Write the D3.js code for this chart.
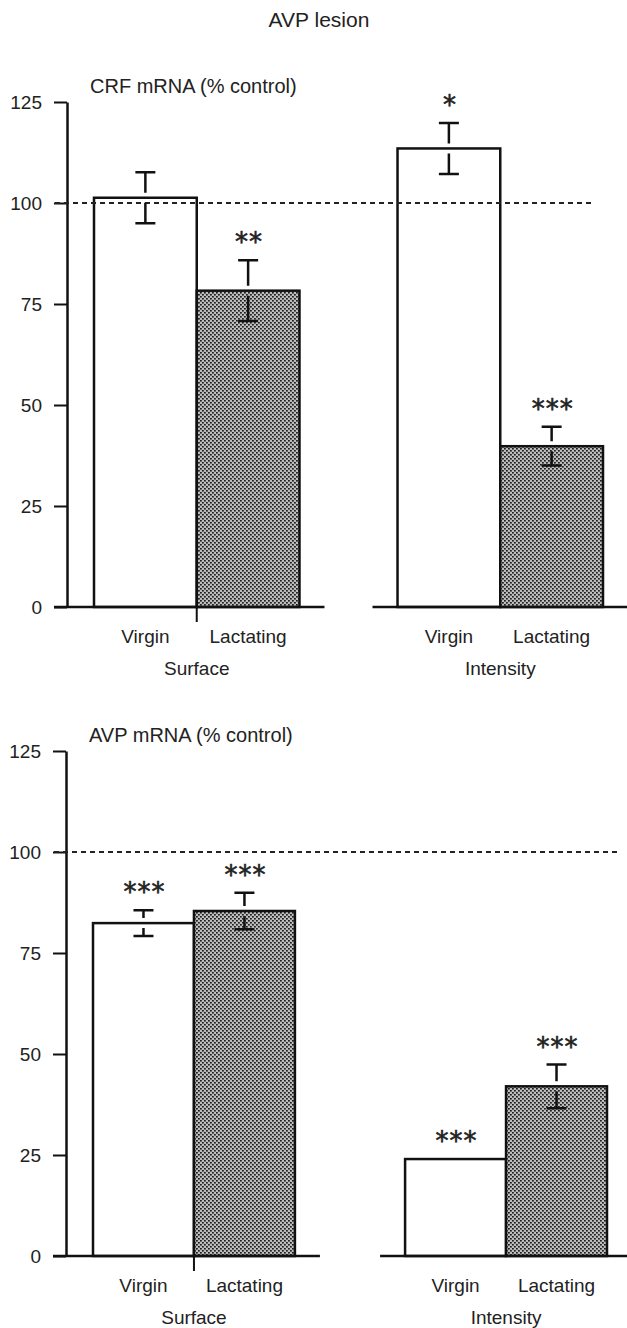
<!DOCTYPE html>
<html>
<head>
<style>
  body { margin: 0; background: #fff; }
  svg text { font-family: "Liberation Sans", Arial, sans-serif; fill: #222; }
  .axis path, .axis line { stroke: #111; }
  .axis path { stroke-width: 2.5px; }
  .axis line { stroke-width: 2px; }
  .axis text { font-size: 19px; }
  .bar { stroke: #111; stroke-width: 2.5px; }
  .err { stroke: #111; stroke-width: 2.5px; fill: none; }
  .stars { font-family: "DejaVu Sans", sans-serif !important; font-size: 26px; letter-spacing: 1px; stroke: #222; stroke-width: 0.6px; }
</style>
</head>
<body>
<script src="https://d3js.org/d3.v7.min.js"></script>
<script>
var groups = ["Surface", "Intensity"];
var conditions = ["Virgin", "Lactating"];
var yTicks = [0, 25, 50, 75, 100, 125];
var controlLevel = 100;
// bar order: Surface-Virgin, Surface-Lactating, Intensity-Virgin, Intensity-Lactating
var crfMean = [101.3, 78.3, 113.5, 39.8];
var crfSem = [6.3, 7.5, 6.3, 4.8];
var crfStars = ["", "**", "*", "***"];
var avpMean = [82.4, 85.4, 24.0, 42.0];
var avpSem = [3.2, 4.5, 0, 5.4];
var avpStars = ["***", "***", "***", "***"];

var width = 627, height = 1328;
var svg = d3.select("body").append("svg")
    .attr("width", width)
    .attr("height", height);

// stipple fill for the lactating bars
var pat = svg.append("defs").append("pattern")
    .attr("id", "stipple")
    .attr("patternUnits", "userSpaceOnUse")
    .attr("width", 4).attr("height", 4);
pat.append("rect").attr("width", 4).attr("height", 4).attr("fill", "#bdbdbd");
pat.append("rect").attr("x", 0).attr("y", 0).attr("width", 1.8).attr("height", 1.6).attr("fill", "#1e1e1e");
pat.append("rect").attr("x", 2).attr("y", 2).attr("width", 1.8).attr("height", 1.6).attr("fill", "#1e1e1e");

svg.append("text")
    .attr("x", 319).attr("y", 27)
    .attr("text-anchor", "middle")
    .style("font-size", "21px")
    .text("AVP lesion");

var panels = [
  {title: "CRF mRNA (% control)", mean: crfMean, sem: crfSem, stars: crfStars,
   top: 102, bottom: 607, axisX: 67, xRange: [94, 603], pad: 0.323, dashEnd: 592},
  {title: "AVP mRNA (% control)", mean: avpMean, sem: avpSem, stars: avpStars,
   top: 751, bottom: 1256, axisX: 66, xRange: [93, 607], pad: 0.353, dashEnd: 620}
];

var gap = 5, capW = 20;

panels.forEach(function(p) {
  var g = svg.append("g");
  var y = d3.scaleLinear().domain([0, 125]).range([p.bottom, p.top]);
  var xg = d3.scaleBand().domain(groups).range(p.xRange).paddingInner(p.pad);
  var xc = d3.scaleBand().domain(conditions).range([0, xg.bandwidth()]);

  var rows = d3.cross(groups, conditions).map(function(d, i) {
    return {group: d[0], cond: d[1], mean: p.mean[i], sem: p.sem[i], stars: p.stars[i],
            x: xg(d[0]) + xc(d[1]), w: xc.bandwidth()};
  });

  // bars
  g.selectAll(".bar").data(rows).enter().append("rect")
      .attr("class", "bar")
      .attr("x", d => d.x)
      .attr("width", d => d.w)
      .attr("y", d => y(d.mean))
      .attr("height", d => y(0) - y(d.mean))
      .attr("fill", d => d.cond == "Virgin" ? "#fff" : "url(#stipple)");

  // baselines, one per group
  groups.forEach(function(gr, i) {
    var x0 = i == 0 ? p.axisX - 13 : xg(gr) - 25;
    var x1 = Math.min(width, xg(gr) + xg.bandwidth() + 25);
    g.append("line")
        .attr("x1", x0).attr("x2", x1)
        .attr("y1", y(0)).attr("y2", y(0))
        .attr("stroke", "#111").attr("stroke-width", 2.5);
  });
  // small separator tick under the surface pair
  g.append("line")
      .attr("x1", xg(groups[0]) + xc(conditions[1])).attr("x2", xg(groups[0]) + xc(conditions[1]))
      .attr("y1", y(0)).attr("y2", y(0) + 15)
      .attr("stroke", "#111").attr("stroke-width", 2);

  // y axis
  g.append("g")
      .attr("class", "axis")
      .attr("transform", "translate(" + p.axisX + ",0)")
      .call(d3.axisLeft(y).tickValues(yTicks).tickSize(13).tickSizeOuter(0).tickPadding(12));
  g.selectAll(".axis text").style("fill", "#222");

  // control level
  g.append("line")
      .attr("x1", p.axisX - 12).attr("x2", p.dashEnd)
      .attr("y1", y(controlLevel)).attr("y2", y(controlLevel))
      .attr("stroke", "#222").attr("stroke-width", 2.2)
      .attr("stroke-dasharray", "5,4");

  // error bars, split around the bar top
  rows.filter(d => d.sem > 0).forEach(function(d) {
    var cx = d.x + d.w / 2;
    var hi = y(d.mean + d.sem), lo = y(d.mean - d.sem), m = y(d.mean);
    g.append("path").attr("class", "err")
        .attr("d", "M" + (cx - capW / 2) + "," + hi + "H" + (cx + capW / 2) +
                   "M" + cx + "," + hi + "V" + (m - gap) +
                   "M" + cx + "," + (m + gap) + "V" + lo +
                   "M" + (cx - capW / 2) + "," + lo + "H" + (cx + capW / 2));
  });

  // significance stars
  g.selectAll(".stars").data(rows.filter(d => d.stars)).enter().append("text")
      .attr("class", "stars")
      .attr("text-anchor", "middle")
      .attr("x", d => d.x + d.w / 2 + 1)
      .attr("y", d => y(d.mean + d.sem) - 24 + 15)
      .text(d => d.stars);

  // category labels
  g.selectAll(".cat").data(rows).enter().append("text")
      .attr("class", "cat")
      .attr("text-anchor", "middle")
      .attr("x", d => d.x + d.w / 2)
      .attr("y", y(0) + 36)
      .style("font-size", "19px")
      .text(d => d.cond);

  g.selectAll(".grp").data(groups).enter().append("text")
      .attr("class", "grp")
      .attr("text-anchor", "middle")
      .attr("x", d => xg(d) + xg.bandwidth() / 2)
      .attr("y", y(0) + 68)
      .style("font-size", "19px")
      .text(d => d);

  g.append("text")
      .attr("x", p.axisX + 23)
      .attr("y", p.top - 9)
      .style("font-size", "20px")
      .text(p.title);
});
</script>
</body>
</html>
